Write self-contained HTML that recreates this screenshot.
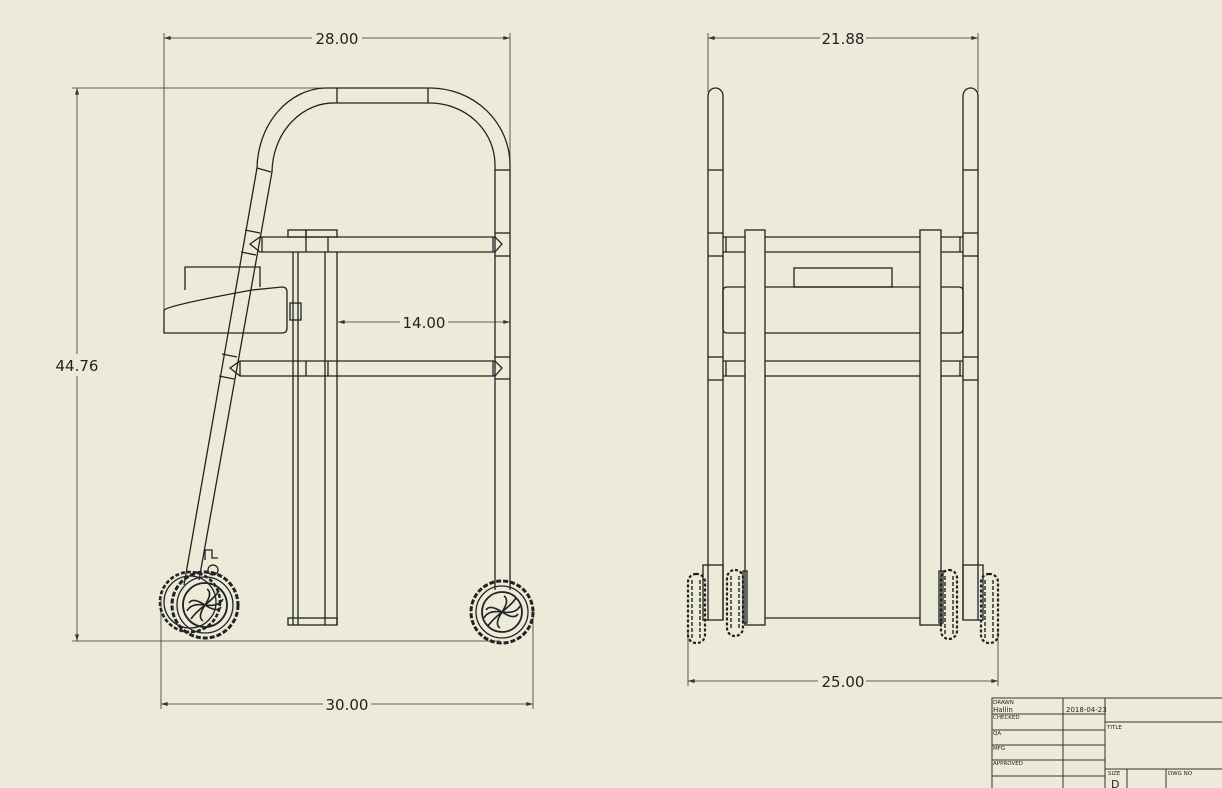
<!DOCTYPE html>
<html><head><meta charset="utf-8"><style>
html,body{margin:0;padding:0;background:#ecebda;}
svg{display:block}
text{font-family:"DejaVu Sans","Liberation Sans",sans-serif;fill:#222}
</style></head><body>
<svg width="1222" height="788" viewBox="0 0 1222 788" xmlns="http://www.w3.org/2000/svg">
<defs>
<marker id="a" viewBox="0 0 10 6" refX="10" refY="3" markerWidth="7" markerHeight="4" orient="auto-start-reverse" markerUnits="userSpaceOnUse"><path d="M0 0 L10 3 L0 6 Z" fill="#333"/></marker>
</defs>
<rect width="1222" height="788" fill="#ecebda"/>
<g stroke="#333" stroke-width="0.8" fill="none">
<line x1="164" y1="38" x2="510" y2="38" marker-start="url(#a)" marker-end="url(#a)"/>
<line x1="164" y1="33" x2="164" y2="330"/>
<line x1="510" y1="33" x2="510" y2="160"/>
<line x1="77" y1="88" x2="77" y2="641" marker-start="url(#a)" marker-end="url(#a)"/>
<line x1="72" y1="88" x2="330" y2="88"/>
<line x1="72" y1="641" x2="500" y2="641"/>
<line x1="161" y1="704" x2="533" y2="704" marker-start="url(#a)" marker-end="url(#a)"/>
<line x1="161" y1="600" x2="161" y2="709"/>
<line x1="533" y1="615" x2="533" y2="709"/>
<line x1="338" y1="322" x2="510" y2="322" marker-start="url(#a)" marker-end="url(#a)"/>
<line x1="708" y1="38" x2="978" y2="38" marker-start="url(#a)" marker-end="url(#a)"/>
<line x1="708" y1="33" x2="708" y2="92"/>
<line x1="978" y1="33" x2="978" y2="92"/>
<line x1="688" y1="681" x2="998" y2="681" marker-start="url(#a)" marker-end="url(#a)"/>
<line x1="688" y1="630" x2="688" y2="686"/>
<line x1="998" y1="630" x2="998" y2="686"/>
</g>
<g fill="#ecebda">
<rect x="312" y="28" width="50" height="20"/>
<rect x="820" y="28" width="46" height="20"/>
<rect x="52" y="354" width="50" height="22"/>
<rect x="323" y="694" width="48" height="20"/>
<rect x="400" y="312" width="48" height="20"/>
<rect x="818" y="671" width="48" height="20"/>
</g>
<g font-size="15">
<text x="337" y="44" text-anchor="middle">28.00</text>
<text x="843" y="44" text-anchor="middle">21.88</text>
<text x="77" y="371" text-anchor="middle">44.76</text>
<text x="347" y="710" text-anchor="middle">30.00</text>
<text x="424" y="328" text-anchor="middle">14.00</text>
<text x="843" y="687" text-anchor="middle">25.00</text>
</g>
<g stroke="#222" stroke-width="1.3" fill="none">
<path d="M325 88 L430 88 A80 77 0 0 1 510 165 L510 590"/>
<path d="M337 103 L430 103 A65 62 0 0 1 495 165 L495 590"/>
<path d="M325 88 A70 82 0 0 0 257 168 L184 585"/>
<path d="M337 103 A62 70 0 0 0 272 172 L199 580"/>
<line x1="337" y1="88" x2="337" y2="103"/><line x1="428" y1="88" x2="428" y2="103"/>
<line x1="257" y1="168" x2="271" y2="172"/><line x1="495" y1="170" x2="510" y2="170"/>
<line x1="245" y1="230" x2="260" y2="233"/><line x1="241" y1="252" x2="256" y2="255"/>
<line x1="222" y1="354" x2="237" y2="357"/><line x1="219" y1="376" x2="234" y2="379"/>
<line x1="495" y1="233" x2="510" y2="233"/><line x1="495" y1="256" x2="510" y2="256"/>
<line x1="495" y1="357" x2="510" y2="357"/><line x1="495" y1="379" x2="510" y2="379"/>
<path d="M260 237 L495 237 L502 244 L495 252 L260 252 L250 244 Z"/>
<line x1="262" y1="237" x2="262" y2="252"/><line x1="493" y1="237" x2="493" y2="252"/>
<path d="M240 361 L495 361 L502 368 L495 376 L240 376 L230 368 Z"/>
<line x1="240" y1="361" x2="240" y2="376"/><line x1="493" y1="361" x2="493" y2="376"/>
<rect x="288" y="230" width="18" height="7"/><rect x="306" y="230" width="31" height="7"/>
<line x1="293" y1="252" x2="293" y2="625"/><line x1="298" y1="252" x2="298" y2="625"/>
<line x1="325" y1="252" x2="325" y2="625"/><line x1="337" y1="252" x2="337" y2="625"/>
<line x1="306" y1="237" x2="306" y2="252"/><line x1="328" y1="237" x2="328" y2="252"/>
<line x1="306" y1="361" x2="306" y2="376"/><line x1="328" y1="361" x2="328" y2="376"/>
<rect x="288" y="618" width="49" height="7"/>
<rect x="290" y="303" width="11" height="17"/>
<path d="M185 290 L185 267 L260 267 L260 287"/>
<path d="M164 333 L164 310 Q170 305 252 290 L282 287 Q287 287 287 292 L287 328 Q287 333 282 333 Z"/>
<circle cx="190" cy="602" r="30" stroke-dasharray="4 2" stroke-width="2.6"/>
<circle cx="190" cy="602" r="26"/>
<circle cx="205" cy="605" r="33" stroke-dasharray="5 2" stroke-width="3"/>
<circle cx="205" cy="605" r="28"/><circle cx="205" cy="605" r="22" stroke-width="1.8"/>
<path stroke-width="1.6" d="M205 605 q-12 -8 -16 -2 M205 605 q8 -12 2 -16 M205 605 q12 8 16 2 M205 605 q-8 12 -2 16 M205 605 q-10 8 -14 14 M205 605 q10 -8 14 -14 M205 605 q-14 -2 -18 6 M205 605 q14 2 18 -6"/>
<circle cx="213" cy="570" r="5"/><path d="M205 560 L205 550 L212 550 L212 558 L218 558"/>
<circle cx="502" cy="612" r="31" stroke-dasharray="5 2" stroke-width="3"/>
<circle cx="502" cy="612" r="26"/><circle cx="502" cy="612" r="20" stroke-width="1.8"/>
<path stroke-width="1.6" d="M502 612 q-12 -8 -16 -2 M502 612 q8 -12 2 -16 M502 612 q12 8 16 2 M502 612 q-8 12 -2 16 M502 612 q-10 8 -14 14 M502 612 q10 -8 14 -14 M502 612 q-14 -2 -18 6 M502 612 q14 2 18 -6"/>
<path d="M708 620 L708 96 A7.5 8 0 0 1 723 96 L723 620"/>
<path d="M963 620 L963 96 A7.5 8 0 0 1 978 96 L978 620"/>
<line x1="708" y1="170" x2="723" y2="170"/><line x1="963" y1="170" x2="978" y2="170"/>
<line x1="708" y1="233" x2="723" y2="233"/><line x1="708" y1="256" x2="723" y2="256"/>
<line x1="708" y1="357" x2="723" y2="357"/><line x1="708" y1="380" x2="723" y2="380"/>
<line x1="963" y1="233" x2="978" y2="233"/><line x1="963" y1="256" x2="978" y2="256"/>
<line x1="963" y1="357" x2="978" y2="357"/><line x1="963" y1="380" x2="978" y2="380"/>
<rect x="745" y="230" width="20" height="395"/><rect x="920" y="230" width="21" height="395"/>
<path d="M723 237 H745 M765 237 H920 M941 237 H963 M723 252 H745 M765 252 H920 M941 252 H963"/>
<path d="M723 361 H745 M765 361 H920 M941 361 H963 M723 376 H745 M765 376 H920 M941 376 H963"/>
<line x1="726" y1="237" x2="726" y2="252"/><line x1="960" y1="237" x2="960" y2="252"/>
<line x1="726" y1="361" x2="726" y2="376"/><line x1="960" y1="361" x2="960" y2="376"/>
<rect x="794" y="268" width="98" height="19"/>
<path d="M745 287 H727 Q723 287 723 291 V329 Q723 333 727 333 H745 M765 287 H920 M765 333 H920 M941 287 H959 Q963 287 963 291 V329 Q963 333 959 333 H941"/>
<line x1="765" y1="618" x2="920" y2="618"/>
<rect x="703" y="565" width="20" height="55"/><rect x="963" y="565" width="20" height="55"/>
<rect x="743" y="571" width="4" height="52"/><rect x="939" y="571" width="4" height="52"/>
</g>
<g stroke="#222" stroke-width="2.2" fill="none" stroke-dasharray="3 2">
<rect x="688" y="574" width="17" height="69" rx="8"/>
<rect x="727" y="570" width="16" height="66" rx="8"/>
<rect x="941" y="570" width="16" height="69" rx="8"/>
<rect x="981" y="574" width="17" height="69" rx="8"/>
</g>
<g stroke="#222" stroke-width="1.4" fill="none" stroke-dasharray="4 2">
<line x1="692" y1="580" x2="692" y2="638"/><line x1="700" y1="580" x2="700" y2="638"/>
<line x1="731" y1="576" x2="731" y2="630"/><line x1="739" y1="576" x2="739" y2="630"/>
<line x1="945" y1="576" x2="945" y2="634"/><line x1="953" y1="576" x2="953" y2="634"/>
<line x1="985" y1="580" x2="985" y2="638"/><line x1="993" y1="580" x2="993" y2="638"/>
</g>
<g stroke="#333" stroke-width="1" fill="none">
<path d="M992 788 V698 H1222"/>
<line x1="1063" y1="698" x2="1063" y2="788"/><line x1="1105" y1="698" x2="1105" y2="788"/>
<line x1="992" y1="714" x2="1105" y2="714"/><line x1="992" y1="730" x2="1105" y2="730"/>
<line x1="992" y1="745" x2="1105" y2="745"/><line x1="992" y1="760" x2="1105" y2="760"/>
<line x1="992" y1="776" x2="1105" y2="776"/>
<line x1="1105" y1="722" x2="1222" y2="722"/><line x1="1105" y1="769" x2="1222" y2="769"/>
<line x1="1127" y1="769" x2="1127" y2="788"/><line x1="1166" y1="769" x2="1166" y2="788"/>
</g>
<g font-size="5.5">
<text x="993" y="704">DRAWN</text><text x="993" y="712" font-size="7">Hallin</text>
<text x="993" y="719">CHECKED</text><text x="993" y="735">QA</text>
<text x="993" y="750">MFG</text><text x="993" y="765">APPROVED</text>
<text x="1066" y="712" font-size="7">2018-04-23</text>
<text x="1107" y="729">TITLE</text><text x="1108" y="775">SIZE</text>
<text x="1168" y="775">DWG NO</text>
<text x="1111" y="788" font-size="11">D</text>
</g>
</svg>
</body></html>
